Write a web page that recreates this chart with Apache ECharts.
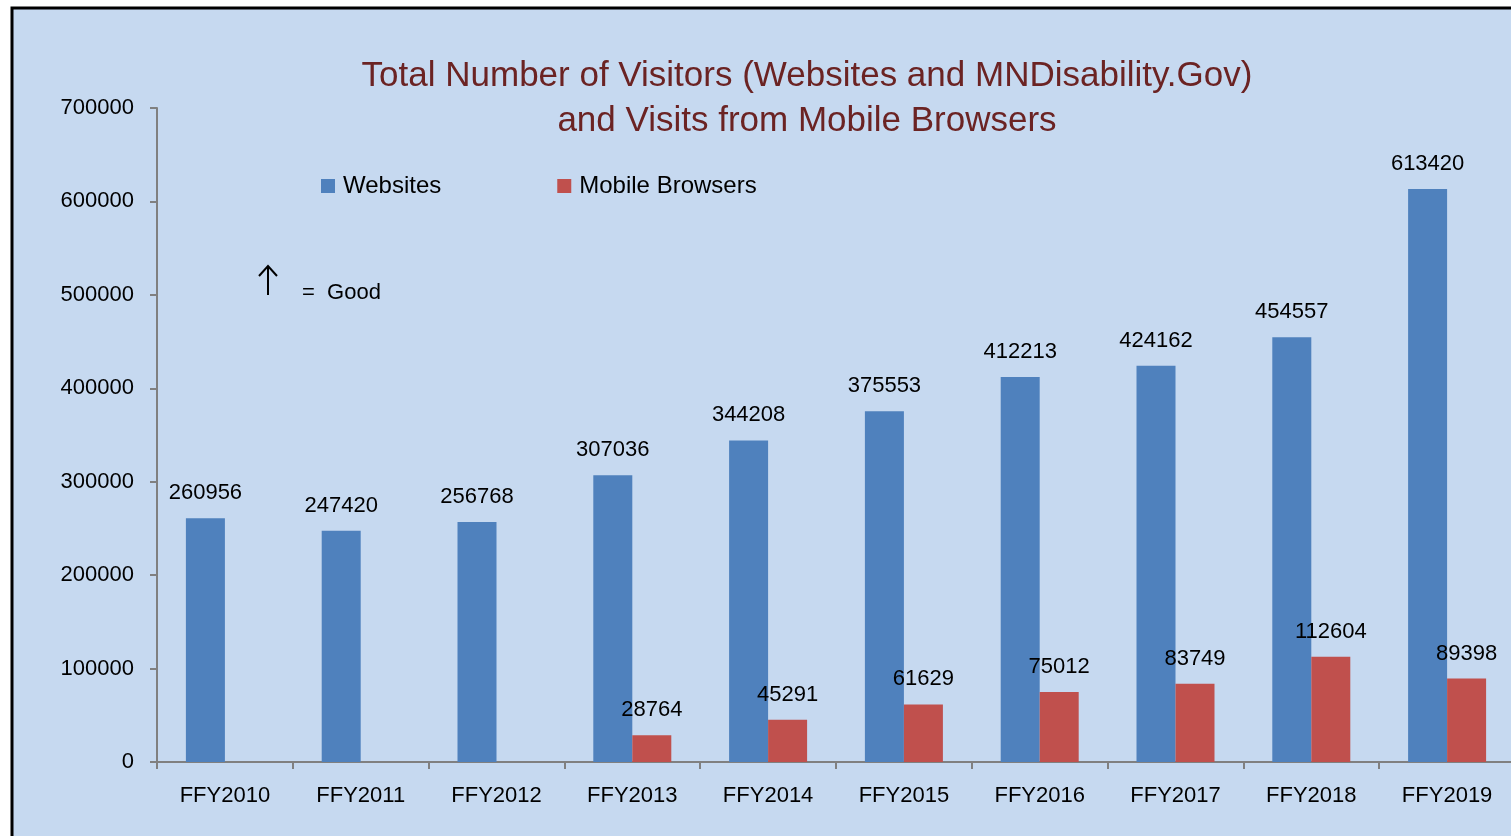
<!DOCTYPE html>
<html>
<head>
<meta charset="utf-8">
<script src="https://cdn.jsdelivr.net/npm/echarts@6/dist/echarts.min.js"></script>
<style>
  html, body { margin: 0; padding: 0; background: #ffffff; overflow: hidden; }
  #chart { width: 1520px; height: 836px; }
</style>
</head>
<body>
<div id="chart"></div>
<script>
// values
const years = ['FFY2010', 'FFY2011', 'FFY2012', 'FFY2013', 'FFY2014', 'FFY2015', 'FFY2016', 'FFY2017', 'FFY2018', 'FFY2019']
const websites = [260956, 247420, 256768, 307036, 344208, 375553, 412213, 424162, 454557, 613420]
const mobile = [null, null, null, 28764, 45291, 61629, 75012, 83749, 112604, 89398]

const font = '"Liberation Sans", Arial, sans-serif'
const axisGray = '#808080'

let myChart = echarts.init(document.getElementById('chart'))
myChart.setOption({
  animation: false,
  backgroundColor: '#ffffff',
  graphic: [
    {
      type: 'rect',
      z: -10,
      shape: { x: 12, y: 8, width: 1560, height: 900 },
      style: { fill: '#c6d9f0', stroke: '#000000', lineWidth: 3 }
    },
    {
      type: 'group',
      children: [
        { type: 'line', shape: { x1: 268, y1: 266, x2: 268, y2: 295 }, style: { stroke: '#000', lineWidth: 2 } },
        { type: 'polyline', shape: { points: [[259, 276], [268, 266], [277, 276]] }, style: { stroke: '#000', lineWidth: 2, fill: null } }
      ]
    },
    {
      type: 'text',
      left: 302,
      top: 282,
      style: { text: '=  Good', font: '22px ' + font, fill: '#000000' }
    }
  ],
  title: {
    text: 'Total Number of Visitors (Websites and MNDisability.Gov)\nand Visits from Mobile Browsers',
    left: 802,
    top: 49,
    textAlign: 'center',
    textStyle: {
      color: '#6b2323',
      fontFamily: font,
      fontWeight: 'normal',
      fontSize: 35,
      lineHeight: 45
    }
  },
  legend: {
    data: ['Websites', 'Mobile Browsers'],
    left: 316,
    top: 169,
    itemWidth: 14,
    itemHeight: 14,
    itemGap: 116,
    icon: 'rect',
    textStyle: { fontSize: 24, fontFamily: font, color: '#000000', padding: [0, 0, 0, 3] }
  },
  grid: { left: 157, top: 108, right: 5, bottom: 74 },
  xAxis: [
    {
      type: 'category',
      data: years,
      axisLine: { lineStyle: { color: axisGray, width: 2 } },
      axisTick: { show: true, length: 7, lineStyle: { color: axisGray, width: 2 } },
      axisLabel: { color: '#000000', fontSize: 22, fontFamily: font, margin: 23 }
    }
  ],
  yAxis: [
    {
      type: 'value',
      min: 0,
      max: 700000,
      interval: 100000,
      axisLine: { show: true, lineStyle: { color: axisGray, width: 2 } },
      axisTick: { show: true, length: 7, lineStyle: { color: axisGray, width: 2 } },
      axisLabel: { color: '#000000', fontSize: 22, fontFamily: font, margin: 23, formatter: v => String(v) },
      splitLine: { show: false }
    }
  ],
  series: [
    {
      name: 'Websites',
      type: 'bar',
      color: '#4f81bd',
      barWidth: 39,
      barGap: '0%',
      data: websites,
      label: { show: true, position: 'top', distance: 14, color: '#000000', fontSize: 22, fontFamily: font }
    },
    {
      name: 'Mobile Browsers',
      type: 'bar',
      color: '#c0504d',
      barWidth: 39,
      data: mobile,
      label: { show: true, position: 'top', distance: 14, color: '#000000', fontSize: 22, fontFamily: font }
    }
  ]
})
</script>
</body>
</html>
